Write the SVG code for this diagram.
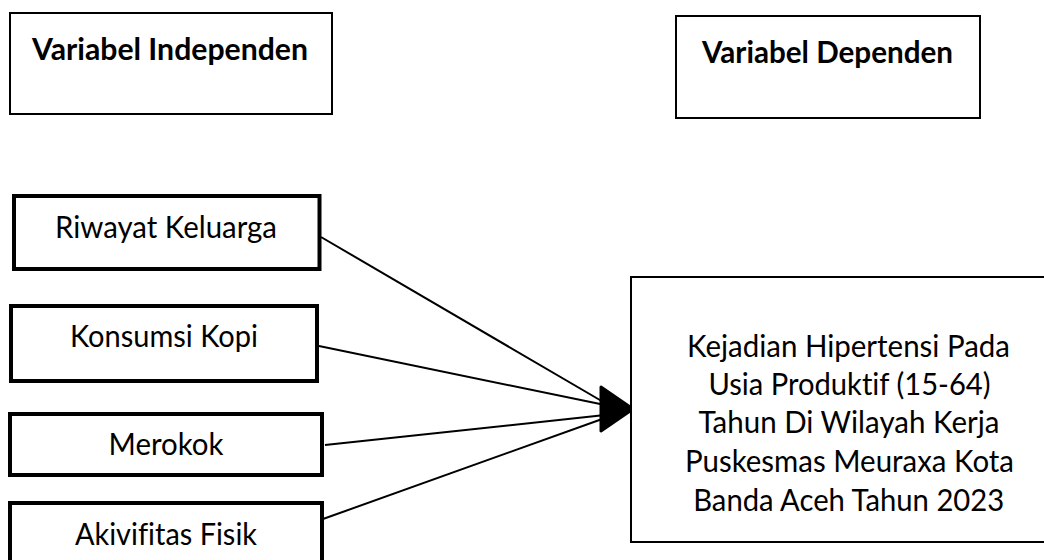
<svg xmlns="http://www.w3.org/2000/svg" width="1044" height="560" viewBox="0 0 1044 560">
  <style>
    .box { fill: #ffffff; stroke: #000000; stroke-width: 2; }
    .thick { fill: #ffffff; stroke: #000000; stroke-width: 4; }
    .t { font-family: Lato, "Liberation Sans", sans-serif; font-size: 30px; fill: #000000; text-anchor: middle; font-variant-ligatures: none; }
    .b { font-weight: bold; }
    .conn { stroke: #000000; stroke-width: 2; fill: none; }
    .head { fill: #000000; stroke: #000000; stroke-width: 3; stroke-linejoin: round; }
  </style>
  <rect width="1044" height="560" fill="#ffffff"/>

  <g id="header-independen">
    <rect class="box" x="10" y="13" width="322" height="101"/>
    <text class="t b" x="170" y="60" textLength="276" lengthAdjust="spacingAndGlyphs">Variabel Independen</text>
  </g>

  <g id="header-dependen">
    <rect class="box" x="676" y="16" width="304" height="102"/>
    <text class="t b" x="827.5" y="63" textLength="251" lengthAdjust="spacingAndGlyphs">Variabel Dependen</text>
  </g>

  <g id="connectors">
    <line class="conn" x1="321" y1="237" x2="605" y2="403"/>
    <line class="conn" x1="319" y1="346" x2="605" y2="405"/>
    <line class="conn" x1="325" y1="445" x2="605" y2="415"/>
    <line class="conn" x1="323" y1="519" x2="605" y2="418"/>
    <polygon class="head" points="601,387 633,409 601,431"/>
  </g>

  <g id="riwayat-keluarga">
    <rect class="thick" x="14" y="196" width="305.5" height="73"/>
    <text class="t" x="166" y="238" textLength="222" lengthAdjust="spacingAndGlyphs">Riwayat Keluarga</text>
  </g>

  <g id="konsumsi-kopi">
    <rect class="thick" x="11" y="306" width="306" height="75"/>
    <text class="t" x="164" y="347" textLength="188" lengthAdjust="spacingAndGlyphs">Konsumsi Kopi</text>
  </g>

  <g id="merokok">
    <rect class="thick" x="10" y="414" width="312" height="61"/>
    <text class="t" x="166" y="455" textLength="115" lengthAdjust="spacingAndGlyphs">Merokok</text>
  </g>

  <g id="aktivitas-fisik">
    <rect class="thick" x="10" y="503" width="312" height="70"/>
    <text class="t" x="166" y="545" textLength="182" lengthAdjust="spacingAndGlyphs">Akivifitas Fisik</text>
  </g>

  <g id="kejadian-hipertensi">
    <rect class="box" x="631" y="277" width="420" height="265"/>
    <text class="t" x="848.5" y="357" textLength="323" lengthAdjust="spacingAndGlyphs">Kejadian Hipertensi Pada</text>
    <text class="t" x="849.5" y="395" textLength="282" lengthAdjust="spacingAndGlyphs">Usia Produktif (15-64)</text>
    <text class="t" x="849" y="433" textLength="301" lengthAdjust="spacingAndGlyphs">Tahun Di Wilayah Kerja</text>
    <text class="t" x="849.5" y="472" textLength="329" lengthAdjust="spacingAndGlyphs">Puskesmas Meuraxa Kota</text>
    <text class="t" x="848.7" y="511" textLength="311" lengthAdjust="spacingAndGlyphs">Banda Aceh Tahun 2023</text>
  </g>
</svg>
